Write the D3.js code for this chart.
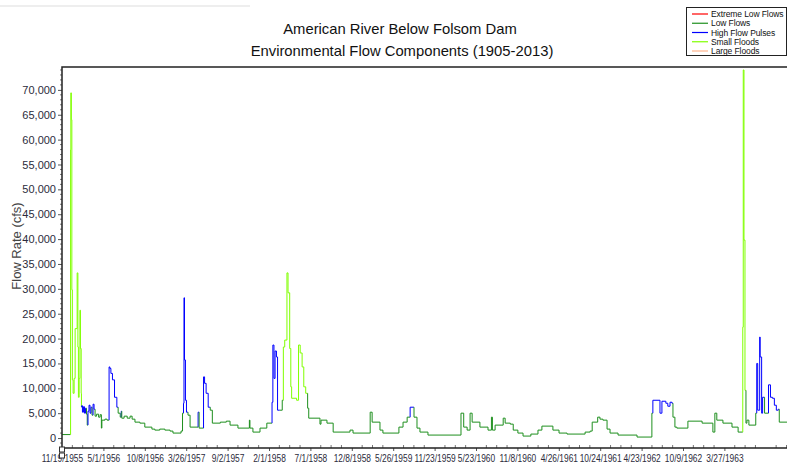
<!DOCTYPE html>
<html>
<head>
<meta charset="utf-8">
<script src="https://cdn.jsdelivr.net/npm/d3@7"></script>
<style>
  body { margin: 0; background: #fff; overflow: hidden; }
  svg { display: block; font-family: "Liberation Sans", Arial, sans-serif; }
</style>
</head>
<body>
<div id="chart"></div>
<script>
// American River below Folsom Dam - environmental flow components, redrawn with d3

// 1) Data

// x axis tick labels (evenly spaced on the original axis)
var tickLabels = ["11/19/1955", "5/1/1956", "10/8/1956", "3/26/1957", "9/2/1957", "2/1/1958",
   "7/1/1958", "12/8/1958", "5/26/1959", "11/23/1959", "5/23/1960", "11/8/1960",
   "4/26/1961", "10/24/1961", "4/23/1962", "10/9/1962", "3/27/1963"];

var yTicks = [0, 5000, 10000, 15000, 20000, 25000, 30000, 35000, 40000, 45000, 50000, 55000, 60000, 65000, 70000];

// legend
var compNames = ["Extreme Low Flows", "Low Flows", "High Flow Pulses", "Small Floods", "Large Floods"];
var compCodes = ["E", "L", "H", "S", "F"];
var compColors = ["#ff0000", "#1e8f1e", "#0000ff", "#80ff00", "#ffb48c"];

// flow series: date, flow (cfs), component
var dates = [
   "1955-11-19", "1955-12-22", "1955-12-23", "1955-12-24", "1955-12-26", "1955-12-28", "1955-12-30",
   "1956-01-02", "1956-01-06", "1956-01-10", "1956-01-18", "1956-01-21", "1956-01-23", "1956-01-26",
   "1956-01-29", "1956-01-31", "1956-02-03", "1956-02-04", "1956-02-05", "1956-02-08", "1956-02-12",
   "1956-02-16", "1956-02-20", "1956-02-24", "1956-02-27", "1956-03-01", "1956-03-05", "1956-03-09",
   "1956-03-13", "1956-03-17", "1956-03-21", "1956-03-25", "1956-03-29", "1956-04-04", "1956-04-12",
   "1956-04-18", "1956-04-23", "1956-04-25", "1956-05-07", "1956-05-15", "1956-05-23", "1956-05-26",
   "1956-05-30", "1956-06-05", "1956-06-13", "1956-06-22", "1956-06-27", "1956-07-05", "1956-07-09",
   "1956-07-11", "1956-07-20", "1956-08-01", "1956-08-12", "1956-08-20", "1956-08-31", "1956-09-19",
   "1956-10-08", "1956-11-06", "1956-11-18", "1956-12-08", "1956-12-29", "1957-01-19", "1957-01-31",
   "1957-03-05", "1957-03-11", "1957-03-15", "1957-03-17", "1957-03-19", "1957-03-23", "1957-03-27",
   "1957-04-02", "1957-04-10", "1957-05-11", "1957-05-15", "1957-06-01", "1957-06-05", "1957-06-11",
   "1957-06-19", "1957-06-27", "1957-07-05", "1957-08-05", "1957-08-28", "1957-09-11", "1957-10-10",
   "1957-11-21", "1957-11-23", "1957-12-04", "1957-12-30", "1958-01-24", "1958-02-12", "1958-02-15",
   "1958-02-19", "1958-02-23", "1958-02-28", "1958-03-04", "1958-03-12", "1958-03-21", "1958-03-25",
   "1958-03-30", "1958-04-07", "1958-04-11", "1958-04-17", "1958-04-21", "1958-04-24", "1958-05-12",
   "1958-05-19", "1958-05-25", "1958-06-01", "1958-06-07", "1958-06-14", "1958-06-21", "1958-06-25",
   "1958-08-07", "1958-08-11", "1958-09-03", "1958-09-27", "1958-12-01", "1958-12-13", "1959-02-21",
   "1959-03-01", "1959-04-02", "1959-04-14", "1959-06-20", "1959-07-08", "1959-07-26", "1959-08-08",
   "1959-08-21", "1959-08-25", "1959-09-07", "1959-09-20", "1959-10-25", "1960-03-18", "1960-03-30",
   "1960-04-14", "1960-04-27", "1960-05-06", "1960-06-08", "1960-07-11", "1960-07-25", "1960-07-29",
   "1960-08-09", "1960-09-11", "1960-09-19", "1960-10-10", "1960-10-22", "1960-11-10", "1960-12-01",
   "1961-01-02", "1961-01-31", "1961-02-16", "1961-04-02", "1961-04-27", "1961-06-01", "1961-08-19",
   "1961-09-10", "1961-09-19", "1961-10-13", "1961-10-23", "1961-11-05", "1961-11-23", "1961-12-06",
   "1962-01-10", "1962-04-03", "1962-06-04", "1962-06-08", "1962-06-29", "1962-07-07", "1962-07-15",
   "1962-07-31", "1962-08-08", "1962-08-17", "1962-08-25", "1962-08-29", "1962-09-06", "1962-09-14",
   "1962-10-29", "1962-12-26", "1963-02-08", "1963-02-16", "1963-02-24", "1963-03-21", "1963-04-27",
   "1963-05-22", "1963-06-10", "1963-06-12", "1963-06-15", "1963-06-19", "1963-06-23", "1963-06-27",
   "1963-07-05", "1963-08-02", "1963-08-06", "1963-08-10", "1963-08-18", "1963-08-20", "1963-08-26",
   "1963-08-30", "1963-09-07", "1963-09-23", "1963-10-01", "1963-10-09", "1963-10-17", "1963-10-25",
   "1963-11-02", "1963-11-06", "1963-12-15"
];

var flows = [
   700, 700, 58000, 69400, 64000, 29800, 11700,
   9000, 12000, 22000, 33200, 18300, 8200, 12000,
   25700, 18000, 9000, 6200, 6500, 5200, 6300,
   5000, 6000, 4800, 2600, 5400, 6600, 5000,
   6200, 4600, 6800, 5800, 4400, 4800, 4200,
   4700, 2000, 3600, 3800, 3600, 14300, 14000,
   13000, 11700, 8200, 6200, 5000, 4200, 5400,
   4000, 4400, 4000, 4400, 3800, 3200, 3000,
   2200, 1800, 1600, 1800, 1600, 1400, 1000,
   1400, 5000, 7000, 28200, 15700, 7600, 5200,
   4600, 2200, 5200, 2000, 12300, 11000, 9000,
   6200, 5600, 3000, 3200, 3400, 2600, 2000,
   3600, 2000, 1200, 2000, 3000, 7200, 18700,
   12000, 17500, 16300, 5600, 5600, 7600, 18300,
   19700, 33200, 29200, 18000, 10300, 8000, 7600,
   18700, 17100, 14300, 10300, 9000, 6000, 4000,
   2800, 3600, 3000, 1200, 1600, 1000, 5200,
   3200, 1600, 1000, 2200, 3200, 4200, 6200,
   6200, 4200, 2000, 1200, 600, 5000, 2200,
   1600, 5000, 3200, 2200, 1600, 4200, 1600,
   2600, 4000, 3000, 2800, 1600, 1000, 400,
   800, 1600, 2400, 1600, 1000, 800, 1200,
   1400, 3200, 4200, 3800, 3600, 1800, 1000,
   600, 200, 5000, 7600, 7600, 5000, 7400,
   7000, 6400, 7200, 7000, 4200, 2200, 2000,
   3400, 3000, 1200, 5000, 3600, 3000, 2200,
   1200, 22300, 74000, 39800, 9600, 3000, 3600,
   2600, 5000, 15000, 5600, 20300, 16300, 5000,
   8200, 5000, 10700, 8200, 8000, 6600, 5600,
   5800, 3200, 3400
];

var comps = [
   "L", "L", "S", "S", "S", "S", "S",
   "S", "S", "S", "S", "S", "S", "S",
   "S", "S", "S", "S", "H", "H", "H",
   "H", "H", "L", "L", "H", "H", "H",
   "H", "L", "H", "H", "L", "L", "L",
   "L", "L", "L", "L", "L", "H", "H",
   "H", "H", "H", "H", "L", "L", "H",
   "L", "L", "L", "L", "L", "L", "L",
   "L", "L", "L", "L", "L", "L", "L",
   "L", "L", "H", "H", "H", "H", "H",
   "L", "L", "H", "L", "H", "H", "H",
   "H", "L", "L", "L", "L", "L", "L",
   "L", "L", "L", "L", "L", "H", "H",
   "H", "H", "H", "H", "L", "L", "S",
   "S", "S", "S", "S", "S", "S", "S",
   "S", "S", "S", "S", "S", "L", "L",
   "L", "L", "L", "L", "L", "L", "L",
   "L", "L", "L", "L", "L", "L", "H",
   "H", "L", "L", "L", "L", "L", "L",
   "L", "L", "L", "L", "L", "L", "L",
   "L", "L", "L", "L", "L", "L", "L",
   "L", "L", "L", "L", "L", "L", "L",
   "L", "L", "L", "L", "L", "L", "L",
   "L", "L", "L", "H", "H", "H", "H",
   "H", "H", "H", "H", "L", "L", "L",
   "L", "L", "L", "L", "L", "L", "L",
   "L", "S", "S", "S", "S", "L", "L",
   "L", "L", "H", "H", "H", "H", "H",
   "H", "L", "H", "H", "H", "H", "H",
   "H", "L", "L"
];


// 2) Layout

var width = 787, height = 464;
var plot = {left: 62, top: 67, right: 805, bottom: 448};
var tickStep = 41.4;   // pixel spacing of the date labels

var svg = d3.select("#chart").append("svg")
   .attr("width", width)
   .attr("height", height);

// faint strip at the very top of the screenshot
svg.append("rect").attr("x", 0).attr("y", 5).attr("width", 250).attr("height", 2).attr("fill", "#eeeeee");

var parseDay = d3.timeParse("%Y-%m-%d");
var parseLabel = d3.timeParse("%m/%d/%Y");
var fmtLabel = d3.timeFormat("%-m/%-d/%Y");

var tickDates = tickLabels.map(function(s) { return parseLabel(s); });

// the original axis spaces its labels evenly, so use a piecewise time scale
var x = d3.scaleTime()
   .domain(tickDates)
   .range(tickDates.map(function(d, i) { return plot.left + i * tickStep; }));

var y = d3.scaleLinear()
   .domain([-2000, 74600])
   .range([plot.bottom, plot.top]);

var data = dates.map(function(d, i) {
   return {date: parseDay(d), flow: flows[i], comp: comps[i]};
});


// 3) Flow line, one path per run of the same component
// (the jump into a new component is drawn in the new component's colour)

svg.append("clipPath").attr("id", "clip")
  .append("rect")
   .attr("x", plot.left).attr("y", plot.top)
   .attr("width", plot.right - plot.left).attr("height", plot.bottom - plot.top);

var runs = [];
data.forEach(function(d, i) {
   if (i === 0 || d.comp !== data[i - 1].comp) {
      if (runs.length) {
         var corner = {date: d.date, flow: data[i - 1].flow};
         runs[runs.length - 1].points.push(corner);
         runs.push({comp: d.comp, points: [corner, d]});
      } else {
         runs.push({comp: d.comp, points: [d]});
      }
   } else {
      runs[runs.length - 1].points.push(d);
   }
});

var line = d3.line()
   .x(function(d) { return x(d.date); })
   .y(function(d) { return y(d.flow); })
   .curve(d3.curveStepAfter);

var colorOf = d3.scaleOrdinal().domain(compCodes).range(compColors);

svg.append("g")
   .attr("clip-path", "url(#clip)")
  .selectAll("path")
   .data(runs)
  .enter().append("path")
   .attr("d", function(r) { return line(r.points); })
   .attr("fill", "none")
   .attr("stroke", function(r) { return colorOf(r.comp); })
   .attr("stroke-width", 1);


// 4) Axes

var axisColor = "#222";
var labelColor = "#2b2b3b";

// y axis
var yAxis = svg.append("g")
   .attr("transform", "translate(" + plot.left + ",0)")
   .call(d3.axisLeft(y).tickValues(yTicks).tickFormat(d3.format(",")).tickSize(4).tickPadding(2));
yAxis.select(".domain").remove();
yAxis.selectAll(".tick line").attr("stroke", "#555");
yAxis.selectAll("text").attr("fill", labelColor).style("font-size", "11px");

var yMinor = d3.range(-1000, 74001, 1000).filter(function(v) { return v % 5000 !== 0; });
svg.append("g").selectAll("line")
   .data(yMinor)
  .enter().append("line")
   .attr("x1", plot.left - 2).attr("x2", plot.left)
   .attr("y1", function(v) { return y(v); }).attr("y2", function(v) { return y(v); })
   .attr("stroke", "#777");

// x axis - labels are narrow in the original, squeeze them horizontally
var xAxis = svg.append("g")
   .attr("transform", "translate(0," + plot.bottom + ")")
   .call(d3.axisBottom(x).tickValues(tickDates).tickFormat(fmtLabel).tickSize(3));
xAxis.select(".domain").remove();
xAxis.selectAll(".tick line").attr("stroke", "#555");
xAxis.selectAll("text")
   .attr("y", 14.5).attr("dy", 0)
   .attr("transform", "scale(0.8,1)")
   .attr("fill", labelColor)
   .style("font-size", "10.5px");

// minor date ticks, 4 per label interval
var xMinor = [];
for (var i = 0; i < 18; i++) {
   for (var k = 1; k < 4; k++) xMinor.push(plot.left + (i + k / 4) * tickStep);
}
svg.append("g").selectAll("line")
   .data(xMinor.filter(function(v) { return v < width; }))
  .enter().append("line")
   .attr("x1", function(v) { return v; }).attr("x2", function(v) { return v; })
   .attr("y1", plot.bottom - 3).attr("y2", plot.bottom)
   .attr("stroke", "#777");

// frame: left, bottom and top
svg.append("path")
   .attr("d", "M" + plot.right + "," + plot.top + "H" + plot.left + "V" + plot.bottom + "H" + plot.right)
   .attr("fill", "none")
   .attr("stroke", axisColor)
   .attr("stroke-width", 1.5);

// little handles at the origin
[449.5, 455.5].forEach(function(cy) {
   svg.append("rect")
      .attr("x", plot.left - 2.5).attr("y", cy - 2.5)
      .attr("width", 5).attr("height", 5)
      .attr("fill", "#fff").attr("stroke", "#333").attr("stroke-width", 1);
});


// 5) Titles

svg.append("text")
   .attr("x", 400).attr("y", 34)
   .attr("text-anchor", "middle")
   .style("font-size", "14.8px").attr("fill", "#111")
   .text("American River Below Folsom Dam");
svg.append("text")
   .attr("x", 402).attr("y", 56)
   .attr("text-anchor", "middle")
   .style("font-size", "14.8px").attr("fill", "#111")
   .text("Environmental Flow Components (1905-2013)");

svg.append("text")
   .attr("transform", "translate(21,246) rotate(-90)")
   .attr("text-anchor", "middle")
   .style("font-size", "13px").attr("fill", "#444")
   .text("Flow Rate (cfs)");


// 6) Legend

var legend = svg.append("g");
legend.append("rect")
   .attr("x", 686.5).attr("y", 7.5)
   .attr("width", 100).attr("height", 48)
   .attr("fill", "#fff").attr("stroke", "#222");

var item = legend.selectAll(".item")
   .data(compNames)
  .enter().append("g")
   .attr("class", "item")
   .attr("transform", function(d, i) { return "translate(0," + (14 + i * 9.25) + ")"; });
item.append("line")
   .attr("x1", 692).attr("x2", 708)
   .attr("stroke", function(d, i) { return compColors[i]; })
   .attr("stroke-width", 1.2);
item.append("text")
   .attr("x", 711).attr("y", 3.2)
   .style("font-size", "8.5px")
   .style("letter-spacing", "-0.1px")
   .attr("fill", "#111")
   .text(function(d) { return d; });
</script>
</body>
</html>
